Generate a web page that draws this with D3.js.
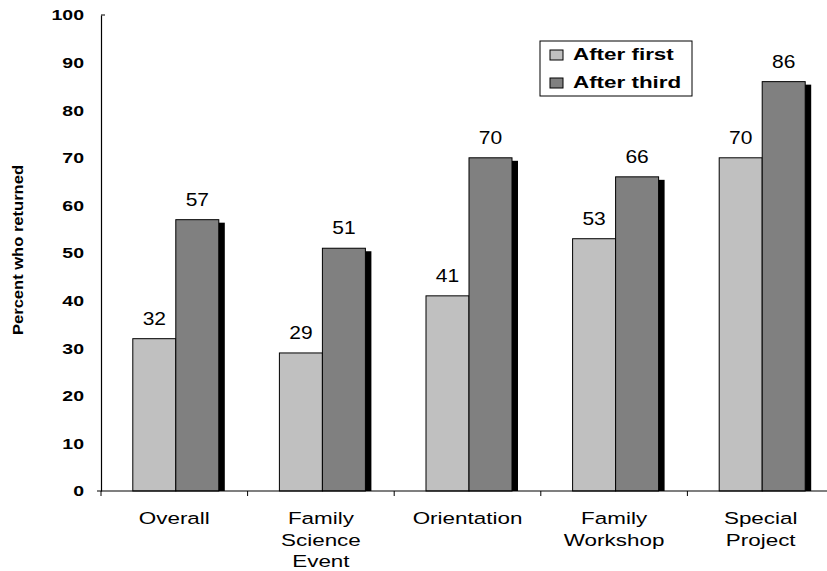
<!DOCTYPE html>
<html>
<head>
<meta charset="utf-8">
<script src="https://cdn.jsdelivr.net/npm/d3@7"></script>
<style>
  body { margin: 0; background: #fff; }
  svg { display: block; font-family: "Liberation Sans", Arial, sans-serif; }
</style>
</head>
<body>
<svg id="chart" width="827" height="571"></svg>
<script>
// Return rates by program type
const categories = ["Overall", "Family Science Event", "Orientation", "Family Workshop", "Special Project"];
const categoryLines = [["Overall"], ["Family", "Science", "Event"], ["Orientation"], ["Family", "Workshop"], ["Special", "Project"]];
const seriesNames = ["After first", "After third"];
const afterFirst = [32, 29, 41, 53, 70];
const afterThird = [57, 51, 70, 66, 86];
const yTicks = [0, 10, 20, 30, 40, 50, 60, 70, 80, 90, 100];
const colors = ["#c0c0c0", "#808080"];

const svg = d3.select("#chart");
const plotL = 101, plotR = 834, plotT = 15, plotB = 491;

const x = d3.scaleBand().domain(categories).range([plotL, plotR]).paddingInner(0).paddingOuter(0);
const y = d3.scaleLinear().domain([0, 100]).range([plotB, plotT]);
const barW = 43;
const xs = d3.scaleBand().domain(seriesNames).range([0, barW * 2]);
const groupOffset = (x.bandwidth() - barW * 2) / 2 + 1.5;

// text drawn with a wide horizontal aspect
function wideText(sel, px, py, sx) {
  return sel.attr("transform", `translate(${px},${py}) scale(${sx},1)`);
}

const series = [afterFirst, afterThird];

// shadows behind the darker bars
const g = svg.append("g");
g.selectAll("rect.shadow")
  .data(afterThird)
  .join("rect")
  .attr("class", "shadow")
  .attr("x", (d, i) => x(categories[i]) + groupOffset + xs(seriesNames[1]) + 6)
  .attr("y", d => y(d) + 3)
  .attr("width", barW)
  .attr("height", d => plotB - y(d) - 3)
  .attr("fill", "#000");

series.forEach((vals, s) => {
  g.selectAll("rect.s" + s)
    .data(vals)
    .join("rect")
    .attr("class", "s" + s)
    .attr("x", (d, i) => x(categories[i]) + groupOffset + xs(seriesNames[s]))
    .attr("y", d => y(d))
    .attr("width", barW)
    .attr("height", d => plotB - y(d))
    .attr("fill", colors[s])
    .attr("stroke", "#000")
    .attr("stroke-width", 1);

  g.selectAll("text.v" + s)
    .data(vals)
    .join("text")
    .attr("class", "v" + s)
    .each(function (d, i) {
      wideText(d3.select(this),
        x(categories[i]) + groupOffset + xs(seriesNames[s]) + barW / 2,
        y(d) - 14, 1.2);
    })
    .attr("text-anchor", "middle")
    .attr("font-size", 17.5)
    .attr("fill", "#000")
    .text(d => d);
});

// y axis
const tickSx = 1.3;
const yAxis = d3.axisLeft(y).tickValues(yTicks).tickSize(0).tickPadding(17);
const ya = svg.append("g").attr("transform", `translate(${plotL},0)`).call(yAxis);
ya.select(".domain").attr("stroke", "#000").attr("stroke-width", 1.2);
ya.selectAll(".tick text")
  .attr("x", -17 / tickSx)
  .attr("transform", `scale(${tickSx},1)`)
  .attr("font-size", 15).attr("font-weight", "bold")
  .attr("font-family", "'Liberation Sans', Arial, sans-serif").attr("fill", "#000");
svg.append("line").attr("x1", plotL).attr("x2", plotL + 4).attr("y1", plotT).attr("y2", plotT).attr("stroke", "#000");

// x axis
const xAxis = d3.axisBottom(x).tickSize(0).tickFormat("");
const xa = svg.append("g").attr("transform", `translate(0,${plotB})`).call(xAxis);
xa.select(".domain").attr("stroke", "#000").attr("stroke-width", 1.2).attr("d", `M${plotL - 4},0H${plotR}`);
xa.selectAll(".tick").remove();
xa.selectAll("line.bound")
  .data(categories)
  .join("line")
  .attr("class", "bound")
  .attr("x1", d => x(d)).attr("x2", d => x(d))
  .attr("y1", 0).attr("y2", 5)
  .attr("stroke", "#000");

categoryLines.forEach((lines, i) => {
  const cx = x(categories[i]) + x.bandwidth() / 2;
  lines.forEach((ln, k) => {
    wideText(svg.append("text"), cx, 524 + k * 21.5, 1.36)
      .attr("text-anchor", "middle")
      .attr("font-size", 16.5)
      .attr("fill", "#000")
      .text(ln);
  });
});

// y axis title
svg.append("text")
  .attr("transform", "translate(23,250) rotate(-90)")
  .attr("text-anchor", "middle")
  .attr("font-size", 15)
  .attr("font-weight", "bold")
  .attr("textLength", 170)
  .attr("lengthAdjust", "spacingAndGlyphs")
  .attr("fill", "#000")
  .text("Percent who returned");

// legend
const lg = svg.append("g").attr("transform", "translate(540,41)");
lg.append("rect").attr("width", 152).attr("height", 55).attr("fill", "#fff").attr("stroke", "#000");
seriesNames.forEach((name, s) => {
  const row = lg.append("g").attr("transform", `translate(10,${9 + s * 28})`);
  row.append("rect").attr("width", 13).attr("height", 10).attr("fill", colors[s]).attr("stroke", "#000");
  wideText(row.append("text"), 23, 10, 1.4)
    .attr("font-size", 16).attr("font-weight", "bold")
    .attr("fill", "#000").text(name);
});
</script>
</body>
</html>
